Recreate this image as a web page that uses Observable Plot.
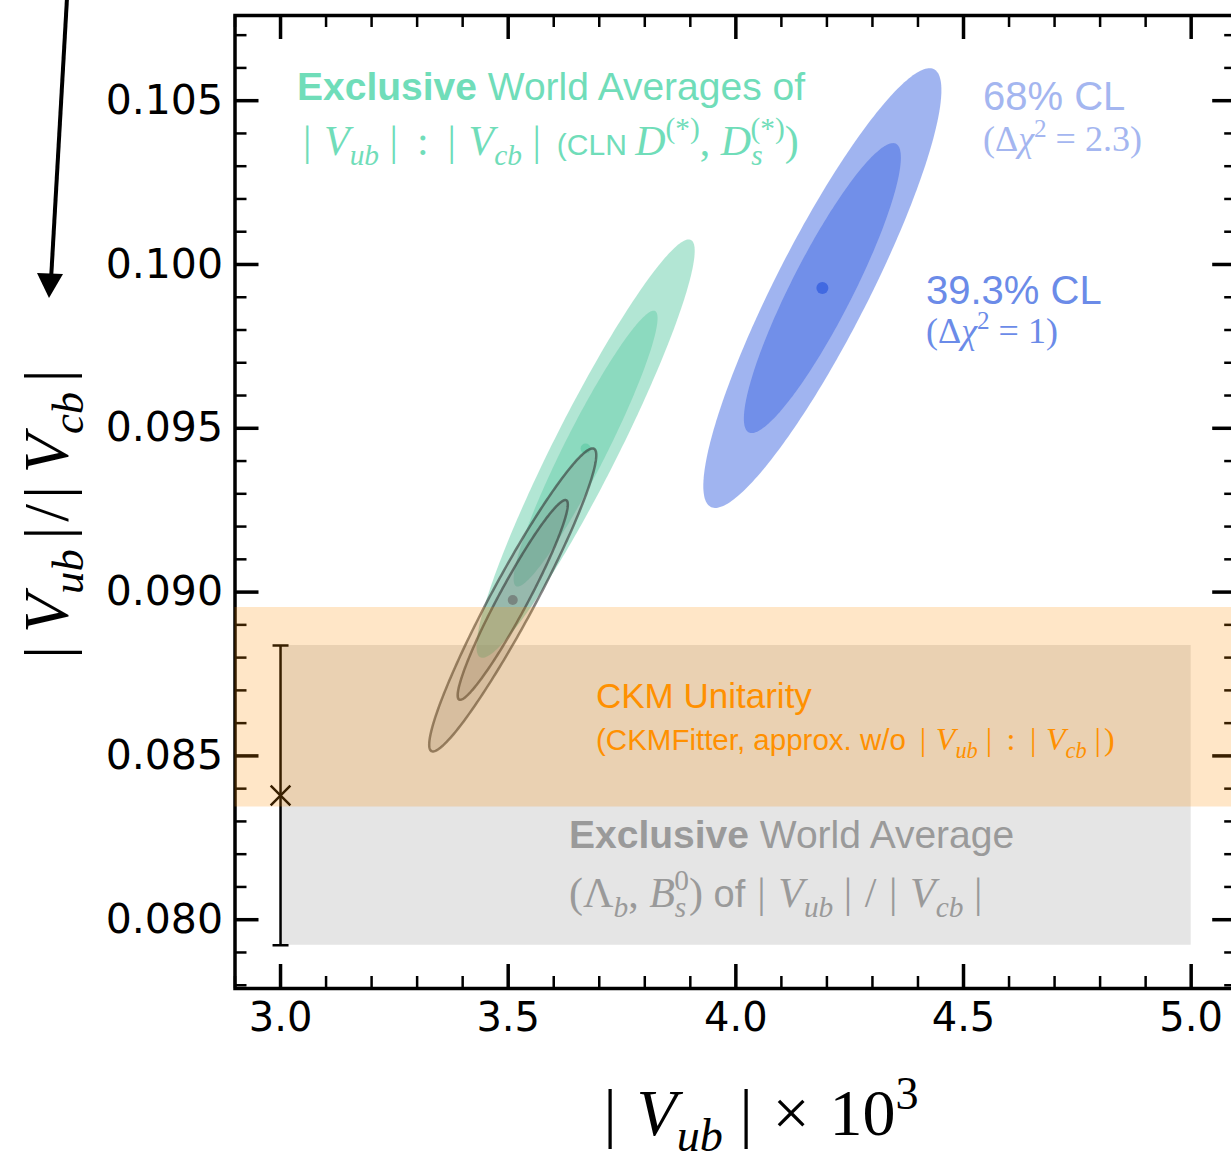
<!DOCTYPE html>
<html><head><meta charset="utf-8">
<script src="https://cdn.jsdelivr.net/npm/d3@7"></script>
<script src="https://cdn.jsdelivr.net/npm/@observablehq/plot@0.6"></script>
<style>
html,body{margin:0;padding:0;background:#fff;overflow:hidden;}
#chart{position:relative;width:1240px;height:1154px;overflow:hidden;}
</style></head><body><div id="chart"></div>
<script>
// ---------------- data ----------------
const xDomain = [2.9, 5.1];
const yDomain = [0.0779, 0.1076];
const xMajorTicks = [3.0, 3.5, 4.0, 4.5, 5.0];
const xMinorTicks = [2.9, 3.1, 3.2, 3.3, 3.4, 3.6, 3.7, 3.8, 3.9, 4.1, 4.2, 4.3, 4.4, 4.6, 4.7, 4.8, 4.9, 5.1];
const yMajorTicks = [0.080, 0.085, 0.090, 0.095, 0.100, 0.105];
const yMinorTicks = [0.078, 0.079, 0.081, 0.082, 0.083, 0.084, 0.086, 0.087, 0.088, 0.089, 0.091, 0.092, 0.093, 0.094,
                     0.096, 0.097, 0.098, 0.099, 0.101, 0.102, 0.103, 0.104, 0.106, 0.107];

// fits: 0 = exclusive |Vub|:|Vcb| (green), 1 = with |Vub|/|Vcb| (grey), 2 = blue fit
const fitNames   = ["Exclusive |Vub|:|Vcb| (CLN)", "Including |Vub|/|Vcb|", "Fit"];
const fitCenterX = [3.670, 3.510, 4.190];
const fitCenterY = [0.09438, 0.08976, 0.09928];
const fitSigmaX  = [0.158, 0.121, 0.1724];
const fitSigmaY  = [0.00421, 0.00305, 0.004425];
const fitRho     = [0.945, 0.955, 0.900];
const clDeltaChi2 = [2.3, 1.0];          // 68% CL, 39.3% CL

// CKM unitarity band (y range)
const ckmBand = [0.08344, 0.08953];
// Exclusive world average |Vub|/|Vcb| (Lambda_b, Bs0)
const exclRatioX = [3.0, 5.0];
const exclRatioCenter = 0.08379;
const exclRatioRange = [0.07922, 0.08837];

// ---------------- layout ----------------
const W = 1240, H = 1154;
const ML = 234.5, MR = 3.8, MT = 15, MB = 166;
const PW = W - ML - MR, PH = H - MT - MB;
const majorLen = 24, minorLen = 12;

function ellipsePoints(i, dchi2) {
  const s = Math.sqrt(dchi2), r = fitRho[i], q = Math.sqrt(1 - r * r);
  return d3.range(0, 241).map(j => {
    const t = 2 * Math.PI * j / 240;
    return {x: fitCenterX[i] + s * fitSigmaX[i] * Math.cos(t),
            y: fitCenterY[i] + s * fitSigmaY[i] * (r * Math.cos(t) + q * Math.sin(t))};
  });
}

const fitStyles = [
  {fill: "mediumaquamarine", fillOpacity: 0.5, stroke: "none"},
  {fill: "dimgray", fillOpacity: 0.2, stroke: "#333", strokeOpacity: 0.6, strokeWidth: 2.5},
  {fill: "royalblue", fillOpacity: 0.5, stroke: "none"}
];
const dotStyles = [
  {fill: "mediumaquamarine", fillOpacity: 0.8, r: 5},
  {fill: "dimgray", fillOpacity: 0.65, r: 5},
  {fill: "royalblue", r: 6}
];

const ellipseMarks = [];
[0, 1, 2].forEach(i => {
  clDeltaChi2.forEach(k => {
    ellipseMarks.push(Plot.line(ellipsePoints(i, k), {x: "x", y: "y", curve: "linear-closed", ...fitStyles[i]}));
  });
  ellipseMarks.push(Plot.dot([i], {x: d => fitCenterX[d], y: d => fitCenterY[d], stroke: "none", ...dotStyles[i]}));
});

const capSymbol = {draw(ctx, size) { const r = Math.sqrt(size / Math.PI); ctx.moveTo(-r, 0); ctx.lineTo(r, 0); }};

const svg = Plot.plot({
  width: W, height: H,
  marginLeft: ML, marginRight: MR, marginTop: MT, marginBottom: MB,
  x: {domain: xDomain, label: null},
  y: {domain: yDomain, label: null},
  style: {fontFamily: "DejaVu Sans", fontSize: "40px", background: "white", maxWidth: "none", color: "black"},
  marks: [
    Plot.rect([0], {x1: exclRatioX[0], x2: exclRatioX[1], y1: exclRatioRange[0], y2: exclRatioRange[1], fill: "#e5e5e5"}),
    ...ellipseMarks,
    Plot.ruleX([exclRatioX[0]], {y1: exclRatioRange[0], y2: exclRatioRange[1], stroke: "black", strokeWidth: 2.5}),
    Plot.dot(exclRatioRange, {x: exclRatioX[0], y: d => d, symbol: capSymbol, r: 8, fill: "none", stroke: "black", strokeWidth: 2.5}),
    Plot.dot([exclRatioCenter], {x: exclRatioX[0], y: d => d, symbol: "times", r: 9, fill: "none", stroke: "black", strokeWidth: 2.5}),
    // inward ticks
    Plot.tickY(yMajorTicks, {y: d => d, insetRight: PW - majorLen, strokeWidth: 3.5}),
    Plot.tickY(yMajorTicks, {y: d => d, insetLeft: PW - majorLen, strokeWidth: 3.5}),
    Plot.tickY(yMinorTicks, {y: d => d, insetRight: PW - minorLen, strokeWidth: 2.5}),
    Plot.tickY(yMinorTicks, {y: d => d, insetLeft: PW - minorLen, strokeWidth: 2.5}),
    Plot.tickX(xMajorTicks, {x: d => d, insetTop: PH - majorLen, strokeWidth: 3.5}),
    Plot.tickX(xMajorTicks, {x: d => d, insetBottom: PH - majorLen, strokeWidth: 3.5}),
    Plot.tickX(xMinorTicks, {x: d => d, insetTop: PH - minorLen, strokeWidth: 2.5}),
    Plot.tickX(xMinorTicks, {x: d => d, insetBottom: PH - minorLen, strokeWidth: 2.5}),
    Plot.frame({stroke: "black", strokeWidth: 3.5}),
    Plot.axisY(yMajorTicks, {tickSize: 0, tickPadding: 12, tickFormat: d3.format(".3f"), label: null, fontSize: 41, fontFamily: "DejaVu Sans"}),
    Plot.axisX(xMajorTicks, {tickSize: 0, tickPadding: 14, tickFormat: d3.format(".1f"), label: null, fontSize: 40, fontFamily: "DejaVu Sans"}),
    // CKM unitarity band on top
    Plot.rect([0], {x1: xDomain[0], x2: xDomain[1], y1: ckmBand[0], y2: ckmBand[1], fill: "darkorange", fillOpacity: 0.22})
  ]
});
document.getElementById("chart").appendChild(svg);

// ---------------- annotations ----------------
const SERIF = "Liberation Serif", SANS = "Liberation Sans";
const f1 = v => v.toFixed(1);
const rm = (s, dx = 0) => `<tspan font-family="${SERIF}"${dx ? ` dx="${f1(dx)}"` : ''}>${s}</tspan>`;
const it = (s, dx = 0) => `<tspan font-family="${SERIF}" font-style="italic"${dx ? ` dx="${f1(dx)}"` : ''}>${s}</tspan>`;
const sub = (s, fs, ital = true) => `<tspan font-family="${SERIF}"${ital ? ' font-style="italic"' : ''} font-size="${f1(fs * 0.7)}" baseline-shift="${f1(-fs * 0.24)}px">${s}</tspan>`;
const sup = (s, fs, ital = false, dx = 0) => `<tspan font-family="${SERIF}"${ital ? ' font-style="italic"' : ''} font-size="${f1(fs * 0.7)}" baseline-shift="${f1(fs * 0.4)}px"${dx ? ` dx="${dx}"` : ''}>${s}</tspan>`;
// |V_idx| with math-like spacing
const absV = (idx, fs, lead = 0, inner = 0.3, trail = 0.25) => rm("|", lead) + it("V", fs * inner) + sub(idx, fs) + rm("|", fs * trail);
const sans = (s, fs, bold, dx = 0) => `<tspan font-family="${SANS}" font-size="${fs}"${bold ? ' font-weight="bold"' : ''}${dx ? ` dx="${f1(dx)}"` : ''}>${s}</tspan>`;

const g = d3.select(svg).append("g").attr("class", "annotations");
function addText(x, y, html, {fs = 39, fill = "black", family = SANS, anchor = "start", rotate = 0} = {}) {
  g.append("text")
    .attr("transform", `translate(${x},${y})` + (rotate ? ` rotate(${rotate})` : ""))
    .attr("font-family", family).attr("font-size", fs).attr("fill", fill)
    .attr("text-anchor", anchor)
    .html(html);
}

const green = "#70ddb9", blueLight = "#a4b6f0", blue = "#6b8be8", orange = "#ff9000", grey = "#9a9a9a";

addText(297, 100, `<tspan font-weight="bold">Exclusive</tspan> World Averages of`, {fs: 39, fill: green});
addText(303, 155,
  absV("ub", 42) + rm(":", 42 * 0.45) + absV("cb", 42, 42 * 0.45) +
  sans("(CLN ", 30, false, 16) + it("D") + sup("(*)", 42) + rm(", ") + it("D") + sub("s", 42) + sup("(*)", 42, false, -12) + rm(")"),
  {fs: 42, fill: green, family: SERIF});

addText(983, 110, "68% CL", {fs: 40, fill: blueLight});
addText(983, 151, rm("(\u0394") + it("\u03c7") + sup("2", 36) + rm(" = 2.3)"), {fs: 36, fill: blueLight, family: SERIF});
addText(926, 304, "39.3% CL", {fs: 40, fill: blue});
addText(926, 343, rm("(\u0394") + it("\u03c7") + sup("2", 36) + rm(" = 1)"), {fs: 36, fill: blue, family: SERIF});

addText(596, 708, "CKM Unitarity", {fs: 35, fill: orange});
addText(596, 750,
  sans("(CKMFitter, approx. w/o", 29.5) + absV("ub", 32, 14) + rm(":", 32 * 0.45) + absV("cb", 32, 32 * 0.45) + rm(")", 3),
  {fs: 32, fill: orange, family: SERIF});

addText(569, 848, `<tspan font-weight="bold">Exclusive</tspan> World Average`, {fs: 39, fill: grey});
addText(569, 907,
  rm("(\u039b") + sub("b", 42) + rm(", ") + it("B") + sub("s", 42) + sup("0", 42, false, -12) + rm(")") +
  sans(" of", 38) + absV("ub", 42, 12) + rm("/", 42 * 0.3) + absV("cb", 42, 42 * 0.3),
  {fs: 42, fill: grey, family: SERIF});

// axis titles
addText(761, 1135, absV("ub", 66) + rm("\u00d7", 66 * 0.3) + rm("10", 66 * 0.3) + sup("3", 66), {fs: 66, family: SERIF, anchor: "middle"});
addText(68, 514, absV("ub", 64, 0, 0.2, 0.15) + rm("/", 64 * 0.08) + absV("cb", 64, 64 * 0.08, 0.2, 0.15), {fs: 64, family: SERIF, anchor: "middle", rotate: -90});

// arrow coming from the neighbouring panel (decoration)
g.append("line").attr("x1", 67).attr("y1", -2).attr("x2", 51).attr("y2", 280).attr("stroke", "black").attr("stroke-width", 4);
g.append("path").attr("d", "M49,298 L37,273 L63,274 Z").attr("fill", "black");
</script></body></html>
